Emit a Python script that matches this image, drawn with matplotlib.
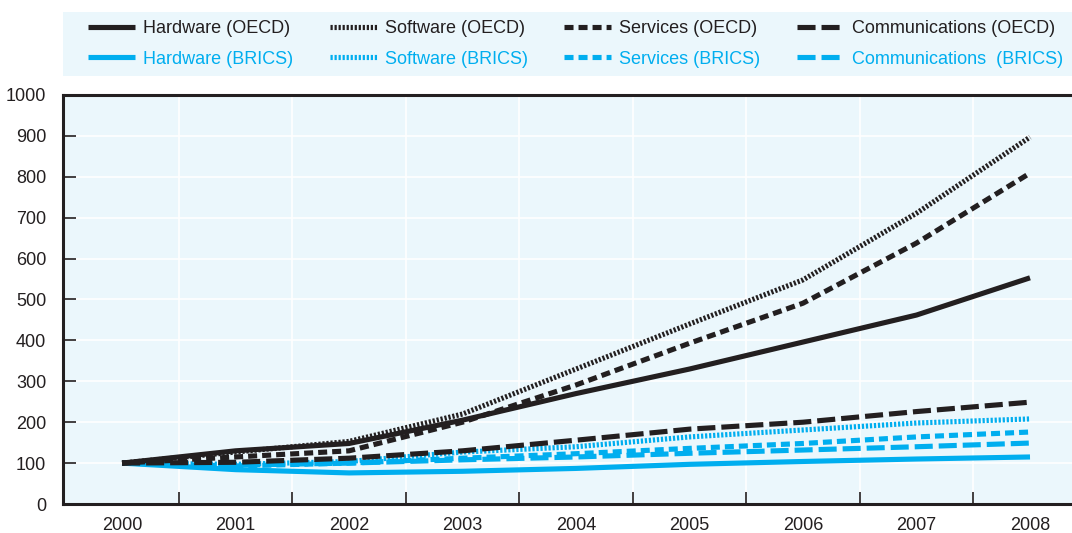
import numpy as np
import matplotlib
matplotlib.use('Agg')
import matplotlib.pyplot as plt
from matplotlib.lines import Line2D
from matplotlib.patches import Rectangle

plt.rcParams['font.family'] = ['Liberation Sans', 'DejaVu Sans']
plt.rcParams['lines.scale_dashes'] = False

# ---------------------------------------------------------------------------
# Data (index, 2000 = 100)
# ---------------------------------------------------------------------------
years = ['2000', '2001', '2002', '2003', '2004', '2005', '2006', '2007', '2008']

hardware_oecd = [100, 130, 148, 205, 270, 330, 396, 462, 553]
software_oecd = [100, 127, 153, 220, 330, 440, 548, 711, 897]
services_oecd = [100, 115, 130, 200, 291, 393, 491, 638, 809]
comms_oecd = [100, 102, 112, 130, 156, 183, 200, 226, 249]

hardware_brics = [100, 84, 76, 80, 87, 97, 104, 110, 115]
software_brics = [100, 97, 104, 127, 140, 164, 181, 198, 208]
services_brics = [100, 93, 100, 112, 123, 136, 148, 164, 176]
comms_brics = [100, 95, 100, 108, 115, 124, 132, 140, 149]

BLACK = '#231F20'
BLUE = '#00AEEF'
BG = '#EBF7FC'

# dash patterns in points (not scaled with line width)
STYLES = {
    'Hardware': (0, ()),
    'Software': (0, (1.6, 1.3)),
    'Services': (0, (6.5, 3.6)),
    'Communications': (0, (13.0, 4.3)),
}

series = [
    ('Hardware (OECD)', hardware_oecd, BLACK, 'Hardware'),
    ('Hardware (BRICS)', hardware_brics, BLUE, 'Hardware'),
    ('Software (OECD)', software_oecd, BLACK, 'Software'),
    ('Software (BRICS)', software_brics, BLUE, 'Software'),
    ('Services (OECD)', services_oecd, BLACK, 'Services'),
    ('Services (BRICS)', services_brics, BLUE, 'Services'),
    ('Communications (OECD)', comms_oecd, BLACK, 'Communications'),
    ('Communications  (BRICS)', comms_brics, BLUE, 'Communications'),
]

fig = plt.figure(figsize=(10.72, 5.33), dpi=100)
ax = fig.add_axes([0.0588, 0.0544, 0.9412, 0.7674])
ax.set_facecolor(BG)

x = np.arange(len(years))
# BRICS drawn first, OECD on top
draw_order = [s for s in series if s[2] == BLUE] + [s for s in series if s[2] == BLACK]
for label, vals, color, kind in draw_order:
    ax.plot(x, vals, color=color, lw=3.7, linestyle=STYLES[kind],
            solid_capstyle='butt', dash_capstyle='butt')

ax.set_xlim(-0.52, 8.37)
ax.set_ylim(0, 1000)
ax.set_yticks(np.arange(0, 1001, 100))
ax.set_xticks(x)
ax.set_xticklabels(years)
ax.set_xticks(x[:-1] + 0.5, minor=True)

ax.tick_params(axis='x', which='major', length=0, pad=9, labelsize=13, colors=BLACK)
ax.tick_params(axis='x', which='minor', direction='in', length=9, width=1.2, color=BLACK)
ax.tick_params(axis='y', direction='in', length=9, width=1.2, labelsize=13,
               colors=BLACK, pad=12)

ax.grid(True, which='minor', axis='x', color='white', lw=1.2)
ax.grid(True, which='major', axis='y', color='white', lw=1.2)
ax.set_axisbelow(True)

for side in ['left', 'top', 'bottom']:
    ax.spines[side].set_color(BLACK)
    ax.spines[side].set_linewidth(2.2)
ax.spines['right'].set_visible(False)

# legend background band
fig.patches.append(Rectangle((0.0588, 1 - 76 / 533), 0.9412, 64 / 533,
                             transform=fig.transFigure, facecolor=BG,
                             edgecolor='none', zorder=0))

handles = [Line2D([], [], color=c, lw=3.7, linestyle=STYLES[k],
                  solid_capstyle='butt', dash_capstyle='butt')
           for _, _, c, k in series]
labels = [s[0] for s in series]
leg = fig.legend(handles, labels, ncol=4, loc='center left',
                 bbox_to_anchor=(88 / 1072, 1 - 76 / 533, 975 / 1072, 64 / 533),
                 mode='expand', frameon=False, fontsize=13,
                 handlelength=2.6, handletextpad=0.45, borderaxespad=0,
                 labelspacing=0.75, borderpad=0.0, columnspacing=2.0)
for txt, (_, _, c, _) in zip(leg.get_texts(), series):
    txt.set_color(c)

fig.savefig('out.png', dpi=100)
